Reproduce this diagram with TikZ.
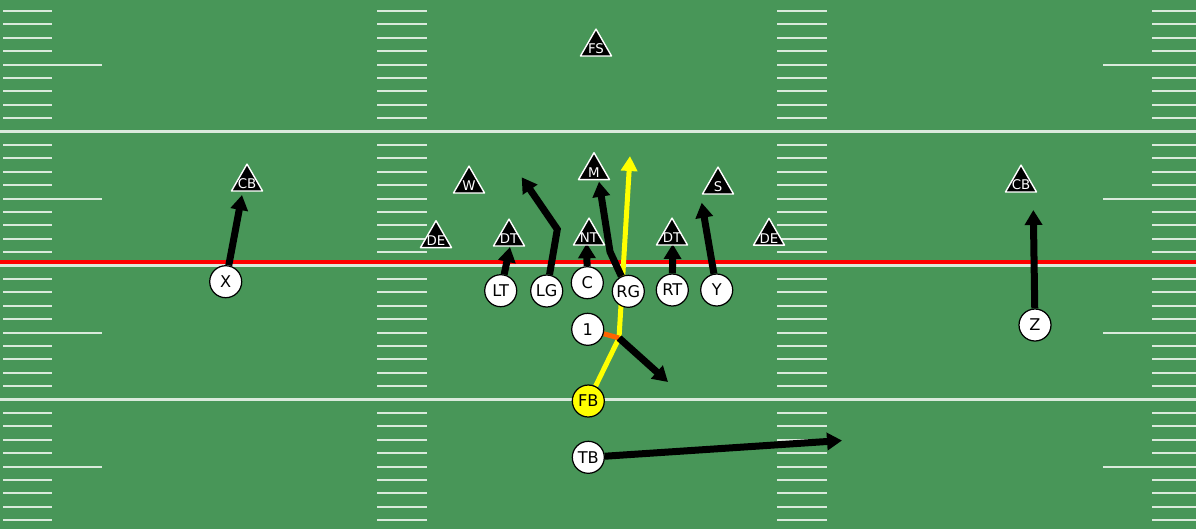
\documentclass[tikz,border=0pt]{standalone}
\usepackage{fontspec}
\setmainfont{DejaVu Sans}
\usetikzlibrary{arrows.meta,shapes.geometric}
\definecolor{turf}{RGB}{72,150,88}
\definecolor{chalk}{RGB}{218,234,220}
\definecolor{losline}{RGB}{255,0,0}
\definecolor{leadyellow}{RGB}{255,255,0}
\definecolor{kickorange}{RGB}{255,100,0}
\pgfdeclarelayer{field}
\pgfdeclarelayer{routes}
\pgfsetlayers{field,routes,main}

\begin{document}
\begin{tikzpicture}[x=0.02cm, y=-0.02cm, line join=round,
  off/.style={draw=black, circle, fill=white, minimum size=0.64cm, inner sep=0pt, line width=0.7pt, font=\fontsize{9.2}{10}\selectfont},
  offball/.style={off, fill=leadyellow},
  def/.style={draw=white, fill=black, regular polygon, regular polygon sides=3, minimum size=0.716cm, inner sep=0pt, line width=0.8pt,
    label={[text=white, font=\fontsize{7.6}{8}\selectfont, yshift=-0.04cm]center:#1}},
  hash/.style={draw=chalk, line width=0.04cm},
  yardline/.style={draw=chalk, line width=0.06cm},
  route/.style={line width=0.14cm, -{Triangle[length=0.3cm, width=0.34cm]}},
  leadroute/.style={draw=leadyellow, line width=0.1cm, -{Triangle[length=0.3cm, width=0.32cm]}},
  kickout/.style={draw=kickorange, line width=0.1cm}]

      \useasboundingbox (0,0) rectangle (1196,529);

      % field
      \begin{pgfonlayer}{field}
        \fill[turf] (0,0) rectangle (1196,529);
        \foreach \b in {0,1,2,3} {
          \foreach \k in {1,...,9} {
            \pgfmathsetmacro\hy{-2.5+134*\b+13.4*\k}
            \draw[hash] (377,\hy) -- (427,\hy) (777,\hy) -- (827,\hy);
          }
          \foreach \k in {1,2,3,4,6,7,8,9} {
            \pgfmathsetmacro\hy{-2.5+134*\b+13.4*\k}
            \draw[hash] (3,\hy) -- (52,\hy) (1152,\hy) -- (1196,\hy);
          }
          \pgfmathsetmacro\hy{-2.5+134*\b+67}
          \draw[hash] (3,\hy) -- (102,\hy) (1103,\hy) -- (1196,\hy);
        }
        \foreach \hy in {131.5,265.5,399.5}
          \draw[yardline] (0,\hy) -- (1196,\hy);
        \draw[losline, line width=0.08cm] (0,262) -- (1196,262);
      \end{pgfonlayer}

      % defense
      \node[def=FS] (fs) at (596,47) {};
      \node[def=M] (m) at (594,170.6) {};
      \node[def=W] (w) at (469,184) {};
      \node[def=S] (s) at (718,185) {};
      \node[def=CB] (lcb) at (247,182) {};
      \node[def=CB] (rcb) at (1021,183) {};
      \node[def=DE] (lde) at (436,238.6) {};
      \node[def=DT] (ldt) at (509,237) {};
      \node[def=NT] (nt) at (589,236) {};
      \node[def=DT] (rdt) at (672,236) {};
      \node[def=DE] (rde) at (769,236.2) {};

      % offense
      \node[off] (x) at (225.7,281.7) {X};
      \node[off] (lt) at (500.7,290.7) {LT};
      \node[off] (lg) at (546.7,291) {LG};
      \node[off] (c) at (587.3,282.7) {C};
      \node[off] (rg) at (628.3,291.3) {RG};
      \node[off] (rt) at (672.3,290) {RT};
      \node[off] (y) at (716.7,290) {Y};
      \node[off] (one) at (587.7,329.3) {1};
      \node[offball] (fb) at (588.3,401) {FB};
      \node[off] (tb) at (588.3,457.3) {TB};
      \node[off] (z) at (1035,325) {Z};

      \coordinate (kink) at (619,338);
      \coordinate (leadtip) at (630,156);
      \coordinate (kinktip) at (668,382);
      \coordinate (tbtip) at (842,440.5);
      \coordinate (xtip) at (242,195);
      \coordinate (lttip) at (510,247);
      \coordinate (lgbend) at (557.3,229.3);
      \coordinate (lgtip) at (521.7,177.3);
      \coordinate (ctip) at (586.7,243.3);
      \coordinate (rgbend) at (610,251.7);
      \coordinate (rgtip) at (599,181.7);
      \coordinate (rttip) at (672.7,244);
      \coordinate (ytip) at (701.7,202.7);
      \coordinate (ztip) at (1033.3,210);

      % routes
      \begin{pgfonlayer}{routes}
        \draw[leadroute] (fb) -- (kink) -- (leadtip);
        \draw[kickout] (one) -- (kink);
        \draw[route] (kink) -- (kinktip);
        \draw[route] (tb) -- (tbtip);
        \draw[route] (x) -- (xtip);
        \draw[route] (lt) -- (lttip);
        \draw[route] (lg) -- (lgbend) -- (lgtip);
        \draw[route] (c) -- (ctip);
        \draw[route] (rg) -- (rgbend) -- (rgtip);
        \draw[route] (rt) -- (rttip);
        \draw[route] (y) -- (ytip);
        \draw[route] (z) -- (ztip);
      \end{pgfonlayer}
    \end{tikzpicture}
\end{document}
